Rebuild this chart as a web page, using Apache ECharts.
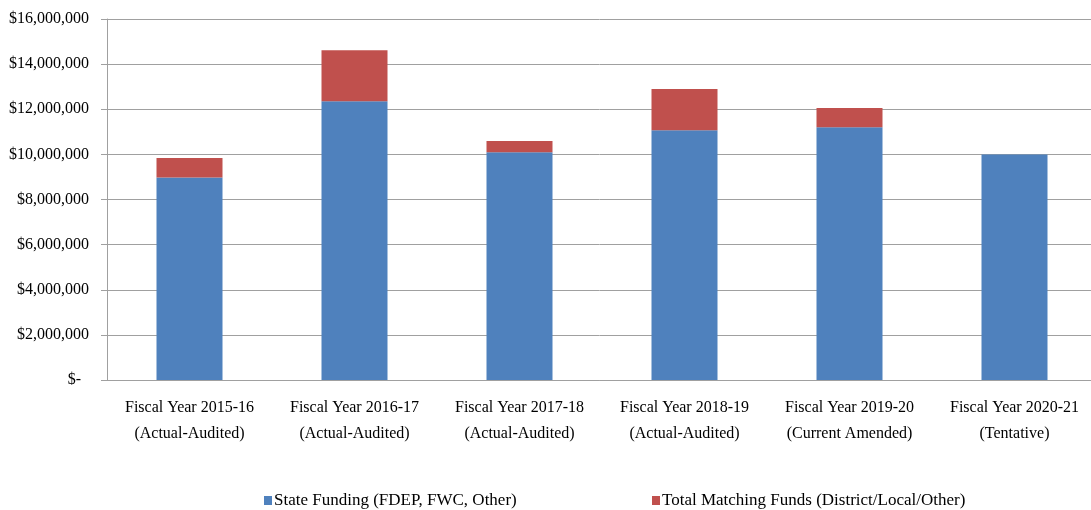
<!DOCTYPE html>
<html>
<head>
<meta charset="utf-8">
<script src="https://cdn.jsdelivr.net/npm/echarts@6/dist/echarts.min.js"></script>
<style>
  html, body { margin: 0; padding: 0; background: #fff; }
  #chart { width: 1091px; height: 510px; }
</style>
</head>
<body>
<div id="chart"></div>
<script>
  const CATEGORIES = [
    'Fiscal Year 2015-16\n(Actual-Audited)',
    'Fiscal Year 2016-17\n(Actual-Audited)',
    'Fiscal Year 2017-18\n(Actual-Audited)',
    'Fiscal Year 2018-19\n(Actual-Audited)',
    'Fiscal Year 2019-20\n(Current Amended)',
    'Fiscal Year 2020-21\n(Tentative)'
  ]
  const STATE_FUNDING = [8980000, 12350000, 10090000, 11070000, 11200000, 9990000]
  const MATCHING_FUNDS = [860000, 2260000, 500000, 1830000, 860000, 0]
  const SERIES_NAMES = ['State Funding (FDEP, FWC, Other)', 'Total Matching Funds (District/Local/Other)']

  const FONT = '"Liberation Serif", "DejaVu Serif", serif'
  const GRAY = '#a0a0a0'

  let chart = echarts.init(document.getElementById('chart'))
  let option = {
    backgroundColor: '#fff',
    animation: false,
    textStyle: { fontFamily: FONT },
    grid: {
      left: 107,
      width: 990,
      top: 19,
      bottom: 130,
      outerBoundsMode: 'none'
    },
    legend: [
      {
        data: [SERIES_NAMES[0]],
        icon: 'rect',
        left: 259,
        top: 487,
        itemWidth: 8,
        itemHeight: 9,
        itemGap: 0,
        textStyle: { fontFamily: FONT, fontSize: 17, color: '#000', padding: [0, 0, 0, -3] }
      },
      {
        data: [SERIES_NAMES[1]],
        icon: 'rect',
        left: 647,
        top: 487,
        itemWidth: 8,
        itemHeight: 9,
        itemGap: 0,
        textStyle: { fontFamily: FONT, fontSize: 17, color: '#000', padding: [0, 0, 0, -3] }
      }
    ],
    xAxis: {
      type: 'category',
      data: CATEGORIES,
      axisLine: { lineStyle: { color: GRAY } },
      axisTick: { length: 6, lineStyle: { color: GRAY } },
      axisLabel: {
        margin: 15,
        fontFamily: FONT,
        fontSize: 16,
        lineHeight: 26,
        color: '#000',
        interval: 0
      }
    },
    yAxis: {
      type: 'value',
      min: 0,
      max: 16000000,
      interval: 2000000,
      axisLine: { show: true, lineStyle: { color: GRAY } },
      axisTick: { show: true, length: 6, lineStyle: { color: GRAY } },
      splitLine: { lineStyle: { color: GRAY } },
      axisLabel: {
        margin: 18,
        fontFamily: FONT,
        fontSize: 16,
        color: '#000',
        formatter: function (v) {
          if (v === 0) return '{d|$-}'
          return '$' + v.toLocaleString('en-US')
        },
        rich: {
          d: { fontFamily: FONT, fontSize: 16, color: '#000', padding: [0, 8, 0, 0] }
        }
      }
    },
    series: [
      {
        name: SERIES_NAMES[0],
        type: 'bar',
        stack: 'total',
        barWidth: '40%',
        itemStyle: { color: '#4f81bd' },
        data: STATE_FUNDING
      },
      {
        name: SERIES_NAMES[1],
        type: 'bar',
        stack: 'total',
        barWidth: '40%',
        itemStyle: { color: '#c0504d' },
        data: MATCHING_FUNDS
      }
    ]
  }
  chart.setOption(option)
</script>
</body>
</html>
